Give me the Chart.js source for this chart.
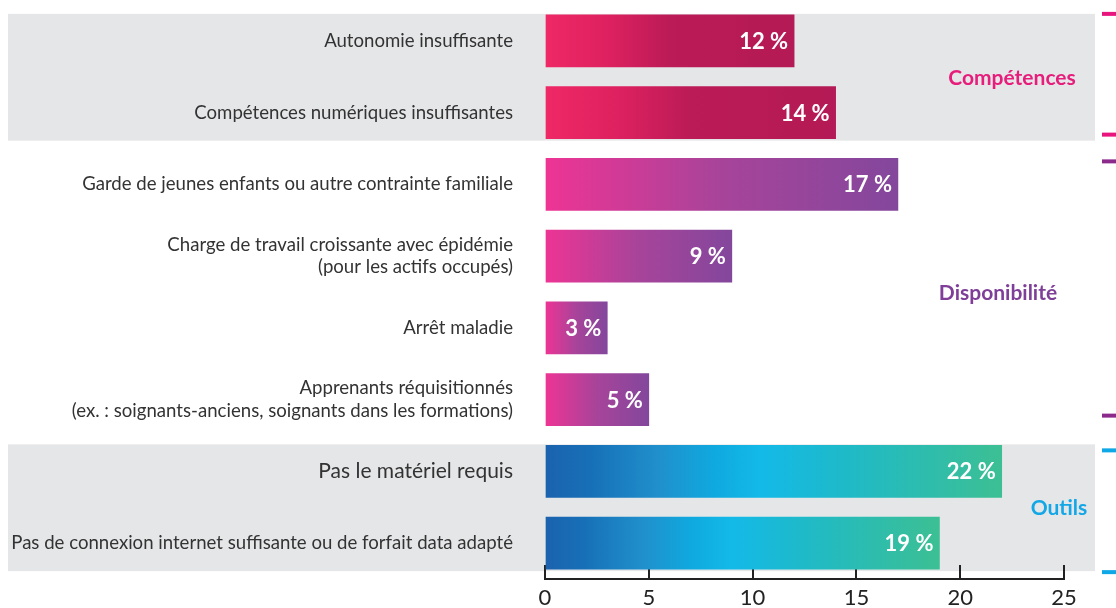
<!DOCTYPE html>
<html>
<head>
<meta charset="utf-8">
<script src="https://cdn.jsdelivr.net/npm/chart.js@4.4.1/dist/chart.umd.min.js"></script>
<style>
  html, body { margin: 0; padding: 0; background: #ffffff; }
  #wrap { width: 1116px; height: 608px; position: relative; }
</style>
</head>
<body>
<div id="wrap"><canvas id="c" width="1116" height="608"></canvas></div>
<script>
// ---- Data ----
const categories = [
  'Autonomie insuffisante',
  'Compétences numériques insuffisantes',
  'Garde de jeunes enfants ou autre contrainte familiale',
  ['Charge de travail croissante avec épidémie', '(pour les actifs occupés)'],
  'Arrêt maladie',
  ['Apprenants réquisitionnés', '(ex. : soignants-anciens, soignants dans les formations)'],
  'Pas le matériel requis',
  'Pas de connexion internet suffisante ou de forfait data adapté'
];
const values = [12, 14, 17, 9, 3, 5, 22, 19];
const groupNames = ['Compétences', 'Disponibilité', 'Outils'];
const groupOfCategory = [0, 0, 1, 1, 1, 1, 2, 2];
const xTickValues = [0, 5, 10, 15, 20, 25];

// ---- Styles ----
const groupGradients = [
  [[0, '#ef2866'], [0.25, '#de2160'], [0.5, '#bb1b56'], [1, '#b41a55']],
  [[0, '#ee3494'], [0.5, '#a7449a'], [1, '#83479c']],
  [[0, '#1b62ae'], [0.1, '#1770b7'], [0.25, '#2090cc'], [0.37, '#0fa9df'], [0.47, '#13b9e8'], [0.66, '#1fbac8'], [1, '#3cbf93']]
];
const groupTextColors = ['#e71d7b', '#7f3f98', '#14a7e6'];
const groupMarkColors = ['#e8157f', '#8c2a8c', '#0ea8e6'];
const groupShaded = [true, false, true];
const groupLabelOffsets = [-52, -66, -5]; // centre x relative to chartArea.right

const FONT = 'Lato, "Open Sans", sans-serif';

function barGradient(context) {
  const chart = context.chart;
  const i = context.dataIndex;
  const g = groupOfCategory[i];
  const stops = groupGradients[g];
  if (!chart.chartArea || !chart.scales.x) return stops[0][1];
  const xs = chart.scales.x;
  const x0 = xs.getPixelForValue(0);
  const x1 = xs.getPixelForValue(values[i]);
  const grad = chart.ctx.createLinearGradient(x0, 0, x1, 0);
  stops.forEach(s => grad.addColorStop(s[0], s[1]));
  return grad;
}

function groupRange(g) {
  const idx = groupOfCategory.map((v, i) => v === g ? i : -1).filter(i => i >= 0);
  return [idx[0], idx[idx.length - 1]];
}

const decorPlugin = {
  id: 'decor',
  beforeDraw(chart) {
    const ctx = chart.ctx;
    const ys = chart.scales.y;
    ctx.save();
    ctx.fillStyle = '#e5e6e8';
    groupNames.forEach((n, g) => {
      if (!groupShaded[g]) return;
      const [a, b] = groupRange(g);
      const top = ys.getPixelForValue(a) - 27;
      const bot = ys.getPixelForValue(b) + 28;
      ctx.fillRect(8, top, chart.chartArea.right + 31 - 8, bot - top);
    });
    ctx.restore();
  },
  afterDatasetsDraw(chart) {
    const ctx = chart.ctx;
    const meta = chart.getDatasetMeta(0);
    ctx.save();
    ctx.fillStyle = '#ffffff';
    ctx.font = 'bold 22px ' + FONT;
    ctx.textAlign = 'right';
    ctx.textBaseline = 'middle';
    meta.data.forEach((bar, i) => {
      ctx.fillText(values[i] + ' %', bar.x - 6, bar.y + 1);
    });
    ctx.restore();
  },
  afterDraw(chart) {
    const ctx = chart.ctx;
    const ys = chart.scales.y;
    const right = chart.chartArea.right;
    ctx.save();
    groupNames.forEach((n, g) => {
      const [a, b] = groupRange(g);
      const pa = ys.getPixelForValue(a), pb = ys.getPixelForValue(b);
      ctx.fillStyle = groupMarkColors[g];
      let top, bot;
      if (g === 0) { top = pa - 27; bot = pb + 22; }
      else if (g === 1) { top = pa - 23; bot = pb + 16; }
      else { top = pa - 21; bot = pb + 29; }
      ctx.fillRect(right + 38, top - 2, 14, 4);
      ctx.fillRect(right + 38, bot - 2, 14, 4);
      ctx.fillStyle = groupTextColors[g];
      ctx.font = 'bold 21px ' + FONT;
      ctx.textAlign = 'center';
      ctx.textBaseline = 'middle';
      ctx.fillText(n, right + groupLabelOffsets[g], (pa + pb) / 2 + 1);
    });
    ctx.restore();
  }
};

new Chart(document.getElementById('c'), {
  type: 'bar',
  data: {
    labels: categories,
    datasets: [{
      data: values,
      backgroundColor: barGradient,
      borderWidth: 0,
      barThickness: 52
    }]
  },
  options: {
    indexAxis: 'y',
    responsive: false,
    animation: false,
    devicePixelRatio: 1,
    layout: { padding: { top: 5, right: 52, left: 0, bottom: 0 } },
    plugins: { legend: { display: false }, tooltip: { enabled: false } },
    scales: {
      y: {
        grid: { display: false, drawTicks: false },
        border: { display: false },
        afterFit(scale) { scale.width = 545; scale.paddingTop = 0; scale.paddingBottom = 0; },
        ticks: {
          padding: 32,
          color: '#333333',
          font: (c) => {
            if (c.index === 6) return { family: FONT, size: 21, lineHeight: 1.2 };
            return { family: FONT, size: 18.6, lineHeight: 1.2 };
          }
        }
      },
      x: {
        min: 0,
        max: 25,
        afterFit(scale) { scale.height = 29; scale.paddingLeft = 0; scale.paddingRight = 0; },
        afterBuildTicks(scale) { scale.ticks = xTickValues.map(v => ({ value: v })); },
        border: { display: true, color: '#222222', width: 2 },
        grid: { display: true, drawOnChartArea: false, drawTicks: true, tickLength: -14, color: '#222222', lineWidth: 2 },
        ticks: {
          padding: 20,
          color: '#222222',
          font: { family: FONT, size: 22 },
          maxRotation: 0
        }
      }
    }
  },
  plugins: [decorPlugin]
});
</script>
</body>
</html>
